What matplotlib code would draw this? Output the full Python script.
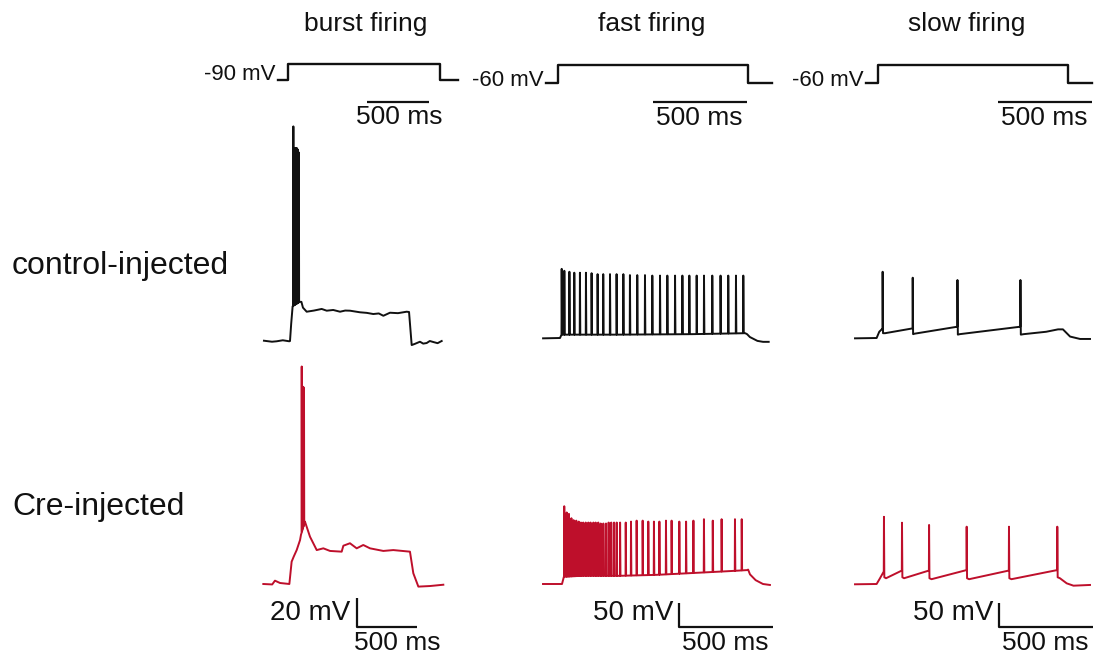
import numpy as np
import matplotlib
matplotlib.use('Agg')
import matplotlib.pyplot as plt

plt.rcParams['font.family'] = ['Liberation Sans', 'DejaVu Sans']

W, H = 1096, 657
RED = '#be0f2b'
INK = '#111111'

# ---- command steps (time in ms, level 0 = holding, 1 = step) ----
cmd_level = [0, 0, 1, 1, 0, 0]
cmd_t_burst = [-81, 0, 0, 1226, 1226, 1371]
cmd_t_fast = [-64, 0, 0, 1011, 1011, 1138]
cmd_t_slow = [-64, 0, 0, 1011, 1011, 1138]

# ---- burst firing (hold -90 mV) ----
burst_ctl_t = [-217, -150, -111, -60, -6, 0, 10, 22, 80, 95, 108, 139, 200, 264, 306, 360,
               417, 460, 500, 583, 640, 694, 740, 778, 833, 900, 972, 992, 1014, 1040,
               1083, 1110, 1139, 1165, 1194, 1230, 1264]
burst_ctl_v = [-89.8, -90.5, -90.2, -89.5, -90.2, -90, -78, -66, -63, -63, -67, -69.8, -69,
               -67.9, -69.1, -68.6, -69.8, -69, -69.1, -70.2, -70.6, -71.4, -71, -72.6,
               -70.5, -70.8, -69.8, -70, -92.8, -92, -90.5, -91.8, -91.4, -90, -90.7,
               -91.5, -90]
burst_ctl_spk_t = [28, 42, 50, 58, 66, 74]
burst_ctl_spk_v = [58, 43, 43, 43, 42, 40]

burst_cre_t = [-214, -140, -117, -75, 3, 22, 40, 64, 92, 100, 133, 175, 231, 286, 342, 439,
               453, 508, 564, 619, 675, 786, 869, 1008, 1036, 1078, 1175, 1286]
burst_cre_v = [-90, -90.3, -87.7, -89.3, -90, -74.6, -71, -66.6, -59.7, -56, -47, -57.4,
               -66.6, -65.4, -67.2, -67.7, -63.6, -61.9, -65.4, -63.1, -65.4, -67.2, -66.6,
               -67.7, -82.6, -91.8, -91.4, -90.5]
burst_cre_spk_t = [106, 113, 119, 125]
burst_cre_spk_v = [60, 46, 46, 45]

# ---- fast firing (hold -60 mV) ----
fast_ctl_t = [-90, 0, 8, 300, 700, 985, 995, 1010, 1050, 1080, 1110]
fast_ctl_v = [-60.7, -60, -53, -53, -52, -50, -52, -58, -66, -68, -68]
fast_ctl_spk_t = [9, 23, 50, 76, 106, 138, 168, 200, 230, 266, 301, 337, 372, 411, 452, 491,
                  532, 571, 612, 651, 688, 727, 766, 810, 854, 895, 936, 975]
fast_ctl_spk_v = [84, 80, 78, 76, 76, 76, 75, 73, 73, 73, 73, 73, 71, 71, 71, 70, 70, 70, 70,
                  70, 70, 70, 70, 70, 70, 70, 70, 70]

fast_cre_t = [-101, 0, 10, 100, 300, 500, 700, 900, 985, 990, 1000, 1030, 1069, 1106]
fast_cre_v = [-60, -60, -45, -43, -43, -41, -37, -33, -31, -30, -40, -52, -60, -62]
fast_cre_spk_t = [12, 25, 37, 50, 62, 76, 89, 101, 113, 126, 140, 152, 167, 179, 193, 206,
                  220, 234, 248, 262, 277, 291, 309, 339, 367, 397, 429, 459, 489, 518, 553,
                  583, 624, 660, 699, 755, 802, 849, 920, 956]
fast_cre_spk_v = [102, 89, 86, 77, 73, 72, 70, 68, 68, 68, 68, 68, 68, 68, 68, 66, 66, 66, 68,
                  68, 68, 68, 68, 68, 70, 72, 72, 70, 70, 70, 72, 72, 70, 70, 72, 75, 72, 75,
                  75, 75]

# ---- slow firing (hold -60 mV) ----
slow_ctl_t = [-117, -2, 12, 25, 29, 32, 43, 189, 192, 200, 427, 430, 440, 762, 765, 780, 900,
              963, 989, 1027, 1080, 1133]
slow_ctl_v = [-60.7, -60, -47, -42, -42, -50, -50, -40, -52, -51, -36.5, -53, -52, -36.5,
              -53, -52, -47, -42, -42, -57, -62, -62]
slow_ctl_spk_t = [30, 190, 428, 763]
slow_ctl_spk_v = [78, 65.6, 60.8, 60.8]

slow_cre_t = [-117, -2, 16, 36, 39, 48, 132, 135, 144, 276, 279, 290, 476, 479, 490, 701, 704,
              715, 958, 961, 973, 1009, 1045, 1133]
slow_cre_v = [-60.6, -60, -48, -34, -46, -48, -32, -46, -48, -32, -48, -50, -31, -48, -50,
              -32, -48, -50, -31, -46, -48, -58.6, -63.5, -62]
slow_cre_spk_t = [37, 133, 277, 477, 702, 959]
slow_cre_spk_v = [80, 67.7, 63, 59.4, 59.4, 59.4]


fig = plt.figure(figsize=(W / 100, H / 100), dpi=100)


def overlay(x0, y0, sx, sy, v0=0.0):
    # full-figure axes: t=0 sits at pixel x0, v0 at pixel y0 (from top)
    ax = fig.add_axes([0, 0, 1, 1])
    ax.set_xlim(-x0 / sx, (W - x0) / sx)
    ax.set_ylim(v0 - (H - y0) / sy, v0 + y0 / sy)
    ax.axis('off')
    ax.patch.set_visible(False)
    return ax


def px(ax, x, y):
    return ax.transData.inverted().transform((x, H - y))


def trace(base_t, base_v, spk_t, spk_v, rise=1, fall=2):
    pts = list(zip(base_t, base_v))
    for ts, vp in zip(spk_t, spk_v):
        pts.append((ts - rise, np.interp(ts - rise, base_t, base_v)))
        pts.append((ts, vp))
        pts.append((ts + fall, np.interp(ts + fall, base_t, base_v)))
    pts.sort(key=lambda p: p[0])
    return np.array(pts).T


def scalebar(ax, x, y, dt, dv=None):
    c = px(ax, x, y)
    if dv is None:
        ax.plot([c[0], c[0] + dt], [c[1], c[1]], color=INK, lw=1.6, solid_capstyle='butt')
    else:
        ax.plot([c[0], c[0], c[0] + dt], [c[1] + dv, c[1], c[1]], color=INK, lw=1.6,
                solid_capstyle='butt')


# command protocols
cmd_cfg = [(cmd_t_burst, 288, 80, 0.124, 16, (367, 102)),
           (cmd_t_fast, 558, 83, 0.188, 18, (653, 102)),
           (cmd_t_slow, 878, 83, 0.188, 18, (998, 102))]
for t, x0, y0, sx, sy, bar in cmd_cfg:
    ax = overlay(x0, y0, sx, sy)
    ax.plot(t, cmd_level, color=INK, lw=1.7)
    scalebar(ax, bar[0], bar[1], 500)

# voltage traces
panels = [
    (burst_ctl_t, burst_ctl_v, burst_ctl_spk_t, burst_ctl_spk_v, 290, 341, 0.12, 1.45, -90, INK),
    (burst_cre_t, burst_cre_v, burst_cre_spk_t, burst_cre_spk_v, 289, 584, 0.12, 1.45, -90, RED),
    (fast_ctl_t, fast_ctl_v, fast_ctl_spk_t, fast_ctl_spk_v, 560, 338, 0.188, 0.48, -60, INK),
    (fast_cre_t, fast_cre_v, fast_cre_spk_t, fast_cre_spk_v, 562, 584, 0.188, 0.48, -60, RED),
    (slow_ctl_t, slow_ctl_v, slow_ctl_spk_t, slow_ctl_spk_v, 877, 338, 0.188, 0.48, -60, INK),
    (slow_cre_t, slow_cre_v, slow_cre_spk_t, slow_cre_spk_v, 877, 584, 0.188, 0.48, -60, RED),
]
cre_axes = []
for bt, bv, st, sv, x0, y0, sx, sy, v0, col in panels:
    ax = overlay(x0, y0, sx, sy, v0)
    tt, vv = trace(bt, bv, st, sv)
    ax.plot(tt, vv, color=col, lw=1.4)
    if col == RED:
        cre_axes.append(ax)

# bottom scale bars
scalebar(cre_axes[0], 357, 627, 500, 20)
scalebar(cre_axes[1], 679, 627, 500, 50)
scalebar(cre_axes[2], 999, 627, 500, 50)


def label(x, y, s, size, ha='center'):
    fig.text(x / W, 1 - y / H, s, fontsize=size, ha=ha, va='center', color=INK)


label(366, 24, 'burst firing', 19)
label(652, 24, 'fast firing', 19)
label(967, 24, 'slow firing', 19)

label(275, 74, '-90 mV', 16, ha='right')
label(544, 81, '-60 mV', 16, ha='right')
label(864, 81, '-60 mV', 16, ha='right')
label(399, 117, '500 ms', 19)
label(699, 118, '500 ms', 19)
label(1044, 118, '500 ms', 19)

label(12, 266, 'control-injected', 23, ha='left')
label(12, 507, 'Cre-injected', 23, ha='left')

label(350, 613, '20 mV', 20, ha='right')
label(673, 613, '50 mV', 20, ha='right')
label(993, 613, '50 mV', 20, ha='right')
label(397, 643, '500 ms', 19)
label(725, 643, '500 ms', 19)
label(1045, 643, '500 ms', 19)

fig.savefig('out.png', dpi=100)
